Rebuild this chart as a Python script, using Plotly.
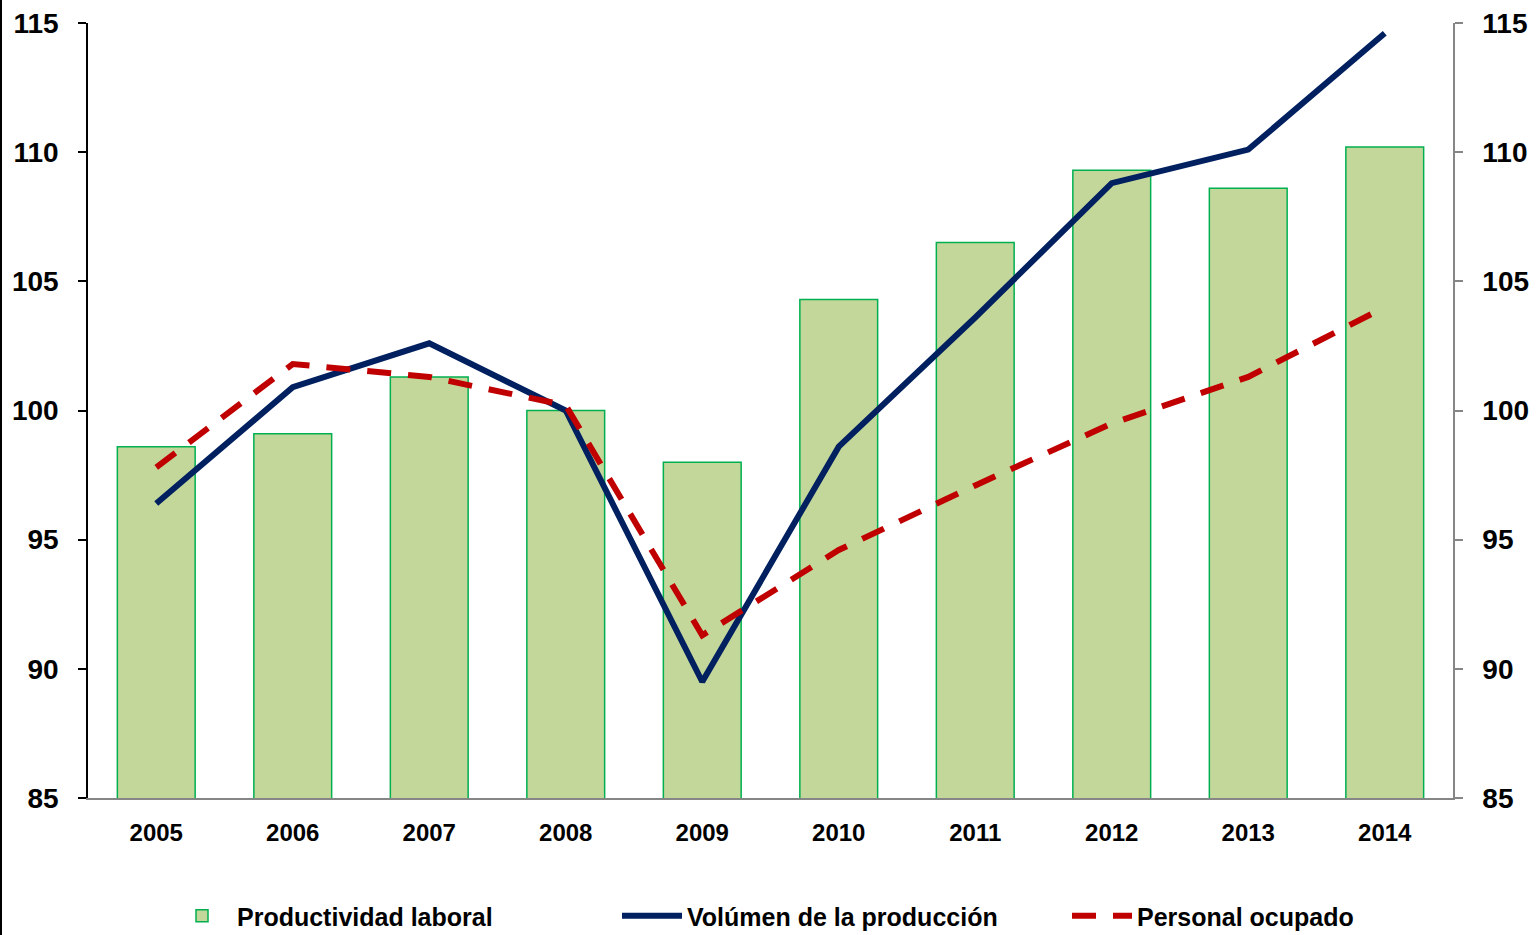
import plotly.graph_objects as go

years = ["2005", "2006", "2007", "2008", "2009", "2010", "2011", "2012", "2013", "2014"]
productividad = [98.6, 99.1, 101.3, 100.0, 98.0, 104.3, 106.5, 109.3, 108.6, 110.2]
volumen = [96.4, 100.9, 102.6, 100.0, 89.5, 98.6, 103.6, 108.8, 110.1, 114.6]
personal = [97.8, 101.8, 101.3, 100.2, 91.3, 94.6, 97.1, 99.5, 101.3, 104.0]
y_ticks = [85, 90, 95, 100, 105, 110, 115]

FONT = "Liberation Sans, Arial, sans-serif"
W, H = 1538, 935
ML, MR, MT, MB = 88, 85, 23, 137
PW, PH = W - ML - MR, H - MT - MB

fig = go.Figure()
fig.add_trace(go.Bar(
    x=years, y=productividad, name="Productividad laboral",
    marker=dict(color="#c4d79b", line=dict(color="#00b050", width=1.5)),
    yaxis="y",
))
fig.add_trace(go.Scatter(
    x=years, y=volumen, name="Volúmen de la producción", mode="lines",
    line=dict(color="#002060", width=6), yaxis="y2",
))
fig.add_trace(go.Scatter(
    x=years, y=personal, name="Personal ocupado", mode="lines",
    line=dict(color="#c00000", width=6, dash="24px,17px"), yaxis="y2",
))

def f(size):
    return dict(family=FONT, size=size, color="#000000", weight="bold")

fig.update_layout(
    width=W, height=H,
    margin=dict(l=ML, r=MR, t=MT, b=MB, autoexpand=False),
    paper_bgcolor="white", plot_bgcolor="white",
    bargap=0.43,
    font=f(26),
    xaxis=dict(
        showgrid=False, showline=True, linecolor="#868686", linewidth=1.5,
        ticks="", tickfont=f(24), automargin=False,
        ticklabelstandoff=12,
    ),
    yaxis=dict(
        range=[85, 115], tickvals=y_ticks, showgrid=False, zeroline=False,
        showline=True, linecolor="#000000", linewidth=1.5,
        ticks="outside", ticklen=8, tickcolor="#000000", tickwidth=1.5,
        tickfont=f(28), ticklabelstandoff=14, automargin=False,
    ),
    yaxis2=dict(
        range=[85, 115], tickvals=y_ticks, showgrid=False, zeroline=False,
        overlaying="y", side="right",
        showline=True, linecolor="#868686", linewidth=1.5,
        ticks="outside", ticklen=8, tickcolor="#868686", tickwidth=1.5,
        tickfont=f(28), ticklabelstandoff=14, automargin=False,
    ),
    legend=dict(
        orientation="h", xref="container", yref="container",
        x=167 / W, xanchor="left", y=(H - 916) / H, yanchor="middle",
        font=f(25), itemwidth=60, traceorder="normal",
        entrywidth=375, entrywidthmode="pixels",
    ),
    shapes=[dict(type="line", xref="paper", yref="paper",
                 x0=-(ML - 1) / PW, x1=-(ML - 1) / PW,
                 y0=-MB / PH, y1=1 + MT / PH,
                 line=dict(color="#000000", width=2))],
)

fig.write_html("out.html", config={"displayModeBar": False},
               post_script="document.body.style.margin='0';document.body.style.overflow='hidden';")
